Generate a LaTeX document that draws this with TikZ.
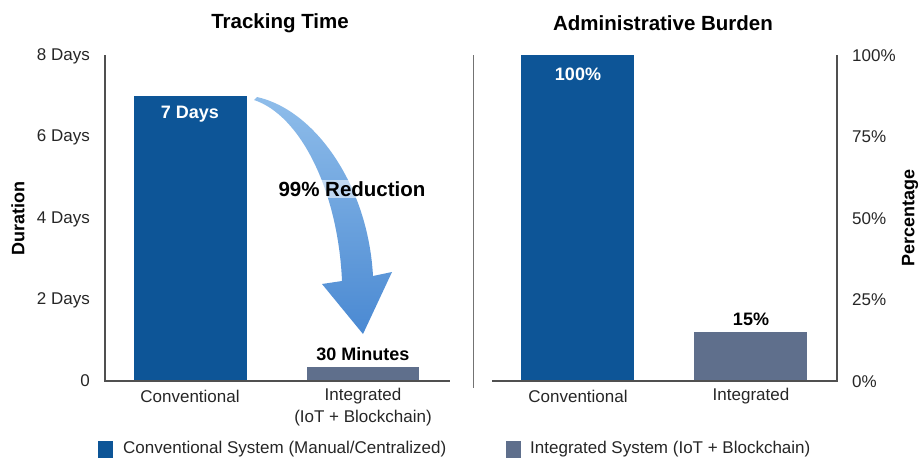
\documentclass[tikz,border=0pt]{standalone}
\usepackage{fontspec}
\setmainfont{Liberation Sans}

\definecolor{convblue}{HTML}{0D5597}
\definecolor{intgray}{HTML}{5F6F8C}
\definecolor{axisgray}{HTML}{505050}
\definecolor{arrlight}{HTML}{8FBDEA}
\definecolor{arrdark}{HTML}{4A89D2}

\tikzset{
  tick/.style={font=\fontsize{17}{22}\selectfont, text=black!85, inner sep=1pt},
  val/.style={font=\fontsize{18}{20}\selectfont\bfseries, inner sep=1pt},
  ttl/.style={font=\fontsize{20.5}{23}\selectfont\bfseries},
  axisline/.style={draw=axisgray, line width=1.1pt},
  swatch/.style={minimum width=15pt, minimum height=17pt, inner sep=0pt}
}

\begin{document}
\begin{tikzpicture}[x=1pt,y=-1pt]
    \useasboundingbox (0,0) rectangle (924,459);

    \node[ttl] (t) at (280,23) {Tracking Time};
    \node[ttl] (u) at (663,23) {Administrative Burden};

    \foreach \v/\y in {8 Days/56, 6 Days/137, 4 Days/219, 2 Days/300, 0/381}
      \node[tick, anchor=east] (l\y) at (91,\y) {\v};
    \foreach \v/\y in {100\%/56, 75\%/137, 50\%/219, 25\%/300, 0\%/382}
      \node[tick, anchor=west] (r\y) at (851,\y) {\v};

    \node[val, rotate=90] (d) at (18,218) {Duration};
    \node[val, rotate=90] (p) at (910,218) {Percentage};

    \fill[convblue] (134,96) rectangle (247,381);
    \fill[intgray] (307,367) rectangle (419,381);
    \fill[convblue] (521,55) rectangle (634,381);
    \fill[intgray] (694,332) rectangle (807,381);

    \draw[axisline] (105,55) -- (105,381) -- (450,381);
    \draw[axisline] (492,381) -- (837,381) -- (837,55);
    \draw[draw=axisgray!80, line width=0.9pt] (473,55) -- (473,388);

    \node[val, text=white] (a) at (190,114) {7 Days};
    \node[val] (b) at (363,354) {30 Minutes};
    \node[val, text=white] (c) at (578,74) {100\%};
    \node[val] (e) at (751,319) {15\%};

    \coordinate (tail) at (257,97);
    \coordinate (tip) at (363,334);
    \shade[top color=arrlight, bottom color=arrdark]
      (tail) .. controls (315,110) and (368,185) .. (373,276) -- (392,272)
      -- (tip) -- (322,284) -- (342,281)
      .. controls (338,190) and (300,115) .. (254,100) -- cycle;
    \node[font=\fontsize{20.5}{23}\selectfont\bfseries, fill=white, fill opacity=0.55,
      text opacity=1, inner sep=1pt] (f) at (352,189) {99\% Reduction};

    \node[tick] (g) at (190,396) {Conventional};
    \node[tick, align=center] (h) at (363,407) {Integrated\\(IoT + Blockchain)};
    \node[tick] (i) at (578,396) {Conventional};
    \node[tick] (j) at (751,396) {Integrated};

    \node[swatch, fill=convblue] (k) at (105,449) {};
    \node[tick, anchor=west] (m) at (122,449) {Conventional System (Manual/Centralized)};
    \node[swatch, fill=intgray] (n) at (513,449) {};
    \node[tick, anchor=west] (o) at (529,449) {Integrated System (IoT + Blockchain)};

\end{tikzpicture}
\end{document}
